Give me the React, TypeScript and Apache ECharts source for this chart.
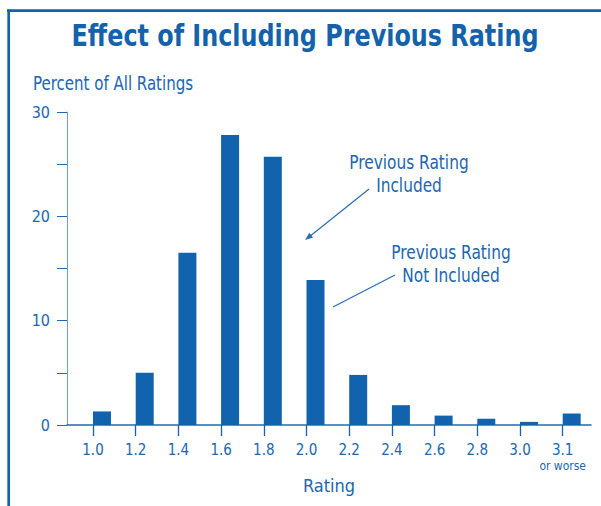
import React, { useEffect, useRef } from "react";
import * as echarts from "echarts";

const categories = ["1.0", "1.2", "1.4", "1.6", "1.8", "2.0", "2.2", "2.4", "2.6", "2.8", "3.0", "3.1"];
const percentOfRatings = [1.3, 5.0, 16.5, 27.8, 25.7, 13.9, 4.8, 1.9, 0.9, 0.6, 0.3, 1.1];
const yTicks = [0, 5, 10, 15, 20, 25, 30];
const yLabels = [0, 10, 20, 30];

const FONT = "'DejaVu Sans Condensed', 'Liberation Sans Narrow', 'Liberation Sans', sans-serif";
const BLUE = "#1063ac";
const TEXT = "#2066b0";

export default function App() {
  const ref = useRef<HTMLDivElement>(null);
  useEffect(() => {
    if (!ref.current) return;
    const chart = echarts.init(ref.current, null, { renderer: "svg" });
    const idx = categories.map((_, i) => i);
    chart.setOption({
      animation: false,
      backgroundColor: "#ffffff",
      grid: { left: 67, right: 10, top: 112, bottom: 81, containLabel: false },
      xAxis: {
        type: "value",
        min: -0.609,
        max: 11.663,
        name: "Rating",
        nameLocation: "middle",
        nameGap: 41,
        nameTextStyle: { fontFamily: FONT, fontSize: 18, color: TEXT },
        axisLine: { show: true, onZero: false, lineStyle: { color: "#2468b0", width: 1.5 } },
        axisTick: { show: true, length: 11, customValues: idx, lineStyle: { color: "#1c62ab", width: 1.3 } },
        axisLabel: {
          customValues: idx,
          margin: 17,
          fontFamily: FONT,
          fontSize: 15,
          color: TEXT,
          formatter: (v: number) => {
            const i = Math.round(v);
            return i === categories.length - 1 ? categories[i] + "\n{s|or worse}" : categories[i];
          },
          rich: { s: { fontFamily: FONT, fontSize: 12, color: TEXT, lineHeight: 17 } },
        },
        splitLine: { show: false },
      },
      yAxis: {
        type: "value",
        min: 0,
        max: 30,
        interval: 5,
        axisLine: { show: true, onZero: false, lineStyle: { color: "#6f9fd2", width: 1 } },
        axisTick: { show: true, length: 10, customValues: yTicks, lineStyle: { color: "#2468b0", width: 1 } },
        axisLabel: { customValues: yLabels, margin: 17, fontFamily: FONT, fontSize: 16, color: TEXT },
        splitLine: { show: false },
      },
      graphic: [
        { type: "line", shape: { x1: 7, y1: 10.7, x2: 601, y2: 10.7 }, style: { stroke: "#1462aa", lineWidth: 2.7 } },
        { type: "line", shape: { x1: 8.7, y1: 9.5, x2: 8.7, y2: 506 }, style: { stroke: "#1462aa", lineWidth: 2.7 } },
        {
          type: "text", x: 305, y: 36, scaleX: 0.885,
          style: { text: "Effect of Including Previous Rating", fontFamily: FONT, fontSize: 30, fontWeight: "bold", fill: "#1462aa", align: "center", verticalAlign: "middle" },
        },
        {
          type: "text", x: 33, y: 83, scaleX: 0.88,
          style: { text: "Percent of All Ratings", fontFamily: FONT, fontSize: 19, fill: TEXT, align: "left", verticalAlign: "middle" },
        },
        {
          type: "text", x: 409, y: 174, scaleX: 0.9,
          style: { text: "Previous Rating\nIncluded", fontFamily: FONT, fontSize: 19, lineHeight: 23, fill: TEXT, align: "center", verticalAlign: "middle" },
        },
        {
          type: "text", x: 451, y: 264, scaleX: 0.9,
          style: { text: "Previous Rating\nNot Included", fontFamily: FONT, fontSize: 19, lineHeight: 23, fill: TEXT, align: "center", verticalAlign: "middle" },
        },
        { type: "line", shape: { x1: 369, y1: 189, x2: 309, y2: 237 }, style: { stroke: "#2a6db3", lineWidth: 1.2 } },
        { type: "polygon", shape: { points: [[305, 240], [313.1, 237.4], [309.4, 232.7]] }, style: { fill: "#2a6db3" } },
        { type: "line", shape: { x1: 395, y1: 275, x2: 333, y2: 307 }, style: { stroke: "#2a6db3", lineWidth: 1.2 } },
      ],
      series: [
        {
          type: "bar",
          name: "spacer",
          barWidth: 18,
          barGap: "0%",
          data: idx.map((i) => [i, 0]),
          itemStyle: { color: "rgba(0,0,0,0)" },
          silent: true,
        },
        {
          type: "bar",
          name: "Percent of All Ratings",
          barWidth: 18,
          barGap: "0%",
          data: idx.map((i) => [i, percentOfRatings[i]]),
          itemStyle: { color: BLUE },
        },
      ],
    });
    return () => chart.dispose();
  }, []);
  return <div ref={ref} style={{ position: "absolute", left: 0, top: 0, width: 601, height: 506 }} />;
}
